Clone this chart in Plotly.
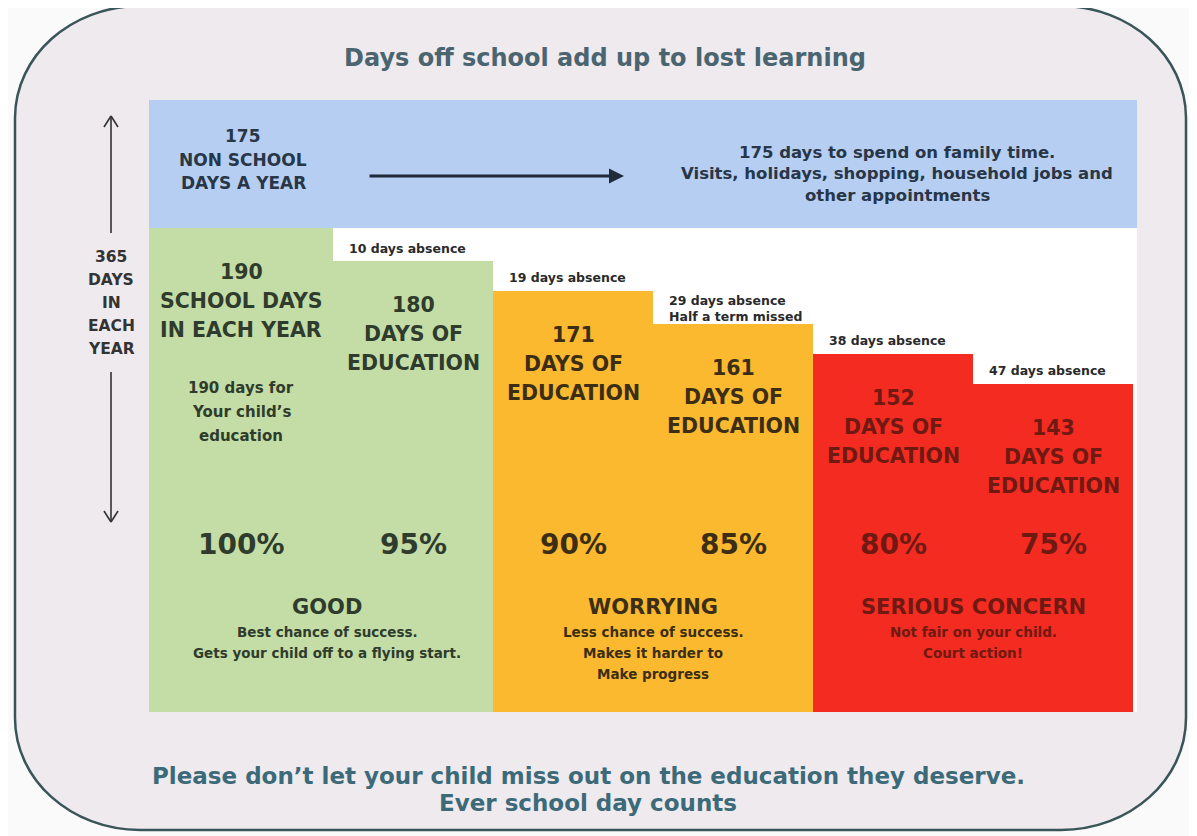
import numpy as np
import plotly.graph_objects as go

W, H = 1197, 836

# ---------------- data ----------------
attendance_pct = [100, 95, 90, 85, 80, 75]
education_days = [190, 180, 171, 161, 152, 143]
absence_days = [0, 10, 19, 29, 38, 47]
column_band = ["GOOD", "GOOD", "WORRYING", "WORRYING", "SERIOUS CONCERN", "SERIOUS CONCERN"]
absence_extra = ["", "", "", "Half a term missed", "", ""]
school_days = 190
non_school_days = 175
days_in_year = 365

band_names = ["GOOD", "WORRYING", "SERIOUS CONCERN"]
band_notes = [["Best chance of success.", "Gets your child off to a flying start."],
              ["Less chance of success.", "Makes it harder to", "Make progress"],
              ["Not fair on your child.", "Court action!"]]

title_text = "Days off school add up to lost learning"
footer_lines = ["Please don\u2019t let your child miss out on the education they deserve.",
                "Ever school day counts"]
family_lines = [f"{non_school_days} days to spend on family time.",
                "Visits, holidays, shopping, household jobs and",
                "other appointments"]

# ---------------- style ----------------
FONT = "'DejaVu Sans', Lato, sans-serif"
band_colors = {"GOOD": "#c4dca5", "WORRYING": "#fbb92f", "SERIOUS CONCERN": "#f42b21"}
band_text = {"GOOD": "#2f3c2d", "WORRYING": "#3b2e14", "SERIOUS CONCERN": "#6e1a12"}
col_widths = np.array([1.15, 1, 1, 1, 1, 1])
col_left = np.concatenate([[0], np.cumsum(col_widths)[:-1]])
col_center = col_left + col_widths / 2

OFF = 8  # page body margin in the browser


def PX(x):
    return (x - OFF) / W


def PY(y):
    return 1 - (y - OFF) / H


fig = go.Figure()

fig.add_trace(go.Bar(
    x=col_center, y=education_days, width=col_widths,
    marker=dict(color=[band_colors[b] for b in column_band], line=dict(width=0)),
    hoverinfo="skip", showlegend=False,
))

ann = []


def txt(s, x, y, size, color, bold=True, xref="paper", yref="paper", xanchor="center",
        yanchor="middle", yshift=0, xshift=0):
    t = f"<b>{s}</b>" if bold else s
    ann.append(dict(text=t, x=x, y=y, xref=xref, yref=yref, showarrow=False,
                    xanchor=xanchor, yanchor=yanchor, yshift=yshift, xshift=xshift,
                    font=dict(family=FONT, size=size, color=color)))


# title & footer
txt(title_text, PX(605), PY(58), 24, "#4a6570")
txt(footer_lines[0], PX(588), PY(776), 23, "#3c6a79")
txt(footer_lines[1], PX(588), PY(803), 23, "#3c6a79")

# blue band texts
for i, s in enumerate([str(non_school_days), "NON SCHOOL", "DAYS A YEAR"]):
    txt(s, PX(243), PY(136 + i * 23.5), 17, "#283647")
for i, s in enumerate(family_lines):
    txt(s, PX(897), PY(152 + i * 22), 16.5, "#283647")

# left 365 label
for i, s in enumerate([str(days_in_year), "DAYS", "IN", "EACH", "YEAR"]):
    txt(s, PX(111), PY(257 + i * 23), 15.5, "#333333")

# column labels
for i in range(6):
    col = band_text[column_band[i]]
    if i == 0:
        lines = [str(education_days[i]), "SCHOOL DAYS", "IN EACH YEAR"]
    else:
        lines = [str(education_days[i]), "DAYS OF", "EDUCATION"]
    for j, s in enumerate(lines):
        txt(s, col_center[i], education_days[i], 20.5, col, xref="x", yref="y",
            yshift=-(44 + j * 29))
    if absence_days[i] > 0:
        extra = absence_extra[i]
        if extra:
            txt(f"{absence_days[i]} days absence", col_left[i], education_days[i], 12.5, "#2a2a2a",
                xref="x", yref="y", xanchor="left", xshift=14, yshift=24)
            txt(extra, col_left[i], education_days[i], 12.5, "#2a2a2a",
                xref="x", yref="y", xanchor="left", xshift=14, yshift=8)
        else:
            txt(f"{absence_days[i]} days absence", col_left[i], education_days[i], 12.5, "#2a2a2a",
                xref="x", yref="y", xanchor="left", xshift=14, yshift=13)
    # percentage
    txt(f"{attendance_pct[i]}%", col_center[i], PY(544), 28, col, xref="x")

# col1 sub text
for j, s in enumerate([f"{school_days} days for", "Your child\u2019s", "education"]):
    txt(s, col_center[0], PY(388 + j * 24), 15, band_text["GOOD"], xref="x")

# band group labels
for k, name in enumerate(band_names):
    cx = (col_center[2 * k] + col_center[2 * k + 1]) / 2
    col = band_text[name]
    txt(name, cx, PY(607), 21, col, xref="x")
    for j, s in enumerate(band_notes[k]):
        txt(s, cx, PY(632 + j * 21), 13.5, col, xref="x")

# horizontal arrow
ann.append(dict(x=PX(624), y=PY(176), xref="paper", yref="paper",
                ax=368 - 624, ay=0, axref="pixel", ayref="pixel",
                showarrow=True, arrowhead=2, arrowsize=1.0, arrowwidth=3,
                arrowcolor="#1f2b38", text=""))

# rounded card path
L, T, R, B = 15, 6, 1186, 830
rx, ry = 125, 112
kk = 0.5523


def P(x, y):
    return f"{PX(x):.5f},{PY(y):.5f}"


path = (f"M {P(L + rx, T)} L {P(R - rx, T)} "
        f"C {P(R - rx + kk * rx, T)} {P(R, T + ry - kk * ry)} {P(R, T + ry)} "
        f"L {P(R, B - ry)} "
        f"C {P(R, B - ry + kk * ry)} {P(R - rx + kk * rx, B)} {P(R - rx, B)} "
        f"L {P(L + rx, B)} "
        f"C {P(L + rx - kk * rx, B)} {P(L, B - ry + kk * ry)} {P(L, B - ry)} "
        f"L {P(L, T + ry)} "
        f"C {P(L, T + ry - kk * ry)} {P(L + rx - kk * rx, T)} {P(L + rx, T)} Z")

shapes = [
    dict(type="path", path=path, xref="paper", yref="paper", fillcolor="#eeeaee",
         line=dict(color="#3a5558", width=2.5), layer="below"),
    dict(type="rect", xref="x domain", yref="paper", x0=0, x1=1, y0=PY(228), y1=PY(100),
         fillcolor="#b6cef1", line=dict(width=0), layer="below"),
    dict(type="rect", xref="x domain", yref="y domain", x0=0, x1=1, y0=0, y1=1,
         fillcolor="#ffffff", line=dict(width=0), layer="below"),
]


def line(x0, y0, x1, y1, color="#333333", width=1.6):
    shapes.append(dict(type="line", xref="paper", yref="paper",
                       x0=PX(x0), y0=PY(y0), x1=PX(x1), y1=PY(y1),
                       line=dict(color=color, width=width)))


# vertical double arrows (open heads)
line(111, 117, 111, 233)
line(104, 127, 111, 116)
line(118, 127, 111, 116)
line(111, 372, 111, 522)
line(104, 511, 111, 522)
line(118, 511, 111, 522)

fig.update_layout(
    width=W, height=H, margin=dict(l=0, r=0, t=0, b=0),
    paper_bgcolor="#fafafa", plot_bgcolor="rgba(0,0,0,0)",
    bargap=0, showlegend=False,
    xaxis=dict(domain=[PX(149), PX(1137)], range=[0, 6.175], visible=False, fixedrange=True),
    yaxis=dict(domain=[PY(712), PY(228)], range=[44, 190], visible=False, fixedrange=True),
    annotations=ann, shapes=shapes,
    font=dict(family=FONT),
)

fig.write_html("out.html")
